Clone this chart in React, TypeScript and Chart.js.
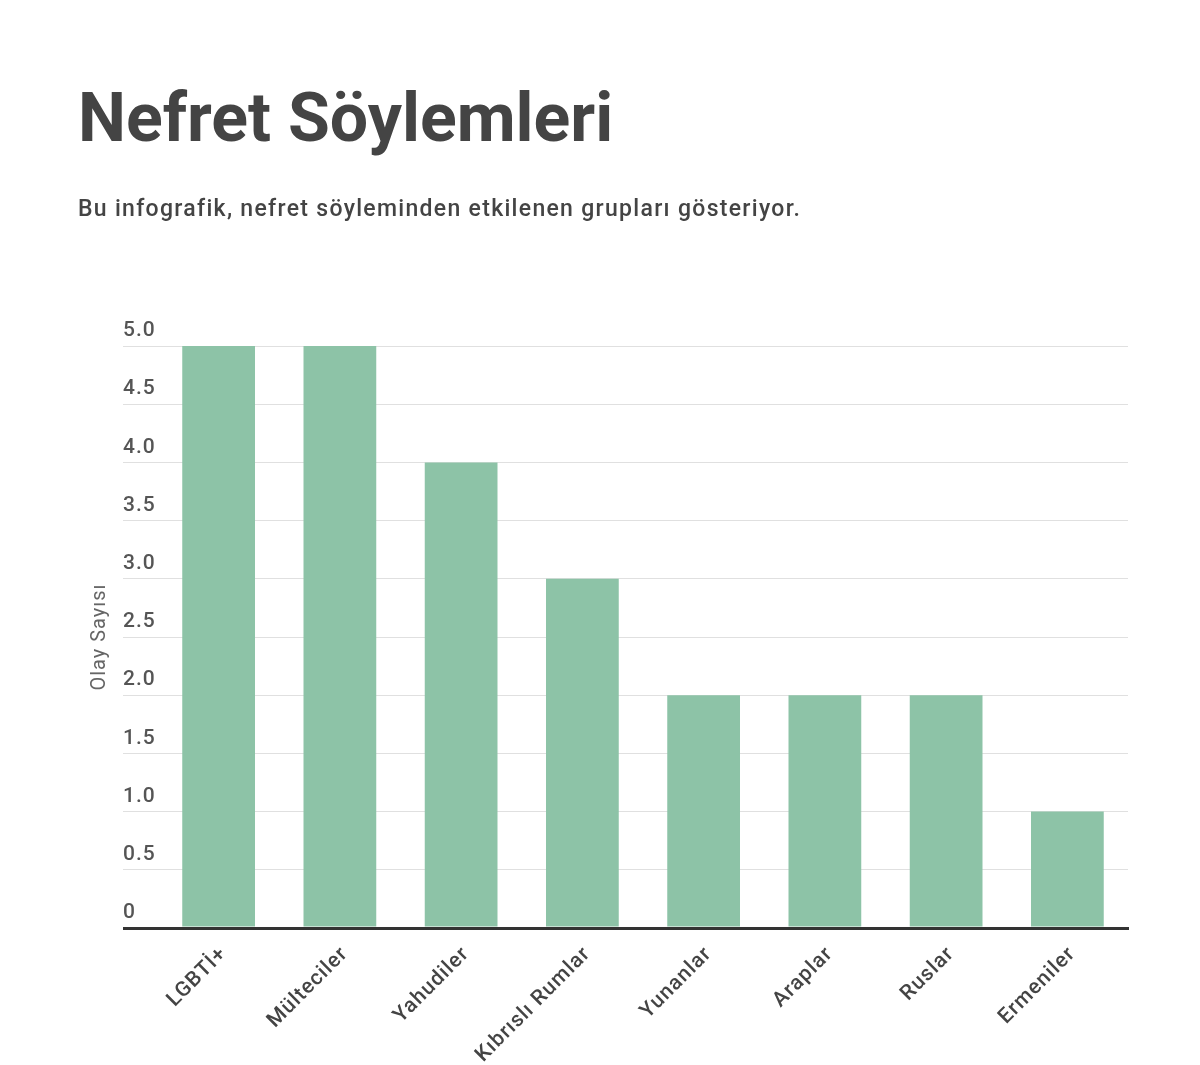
import { useEffect, useRef } from 'react';
import { Chart, registerables } from 'chart.js';

Chart.register(...registerables);

const titleText = 'Nefret Söylemleri';
const subtitleText = 'Bu infografik, nefret söyleminden etkilenen grupları gösteriyor.';
const yAxisTitle = 'Olay Sayısı';
const categories = ['LGBTİ+', 'Mülteciler', 'Yahudiler', 'Kıbrıslı Rumlar', 'Yunanlar', 'Araplar', 'Ruslar', 'Ermeniler'];
const values = [5, 5, 4, 3, 2, 2, 2, 1];
const yMin = 0;
const yMax = 5;
const yStep = 0.5;

const spacingPlugin = {
  id: 'textSpacing',
  beforeDraw: (chart: any) => {
    try {
      chart.ctx.letterSpacing = '1px';
    } catch (e) {
      /* ignore */
    }
  },
};

export default function App() {
  const ref = useRef<HTMLCanvasElement | null>(null);

  useEffect(() => {
    if (!ref.current) return;
    Chart.defaults.font.family = 'Roboto';
    const chart = new Chart(ref.current, {
      type: 'bar',
      data: {
        labels: categories,
        datasets: [
          {
            data: values,
            backgroundColor: '#8dc3a7',
            borderWidth: 0,
            categoryPercentage: 1,
            barPercentage: 0.6,
          },
        ],
      },
      plugins: [spacingPlugin],
      options: {
        animation: false,
        responsive: false,
        maintainAspectRatio: false,
        layout: { padding: { left: 78, right: 72, top: 346, bottom: 0 } },
        plugins: {
          legend: { display: false },
          tooltip: { enabled: false },
          title: { display: false },
        },
        scales: {
          x: {
            z: 1,
            grid: { display: false, drawTicks: false },
            border: { display: true, color: '#333333', width: 3 },
            ticks: {
              color: '#444444',
              font: { family: 'Roboto', size: 21, weight: '500' },
              minRotation: 45,
              maxRotation: 45,
              padding: 14,
              labelOffset: 5,
              autoSkip: false,
            },
            afterFit: (scale: any) => {
              scale.height = 137;
            },
          },
          y: {
            min: yMin,
            max: yMax,
            border: { display: false },
            grid: {
              color: (ctx: any) => (ctx.tick && ctx.tick.value === 0 ? '#333333' : '#e0e0e0'),
              lineWidth: (ctx: any) => (ctx.tick && ctx.tick.value === 0 ? 3 : 1),
              drawTicks: true,
              tickLength: 35,
            },
            ticks: {
              stepSize: yStep,
              mirror: true,
              padding: -35,
              labelOffset: -15,
              color: '#555555',
              font: { family: 'Roboto', size: 21, weight: '500' },
              callback: (v: any) => (Number(v) === 0 ? '0' : Number(v).toFixed(1)),
            },
            title: {
              display: true,
              text: yAxisTitle,
              color: '#666666',
              font: { family: 'Roboto', size: 20 },
              padding: { top: 10, bottom: 0 },
            },
            afterFit: (scale: any) => {
              scale.width = 80;
            },
          },
        },
      },
    });
    return () => chart.destroy();
  }, []);

  return (
    <div style={{ position: 'absolute', left: 0, top: 0, width: 1200, height: 1065, background: '#ffffff' }}>
      <canvas ref={ref} width={1200} height={1065} style={{ display: 'block', width: 1200, height: 1065 }} />
      <div
        style={{
          position: 'absolute',
          left: 78,
          top: 84,
          margin: 0,
          fontFamily: 'Roboto',
          fontWeight: 700,
          fontSize: 68,
          lineHeight: 1,
          color: '#444444',
          whiteSpace: 'nowrap',
        }}
      >
        {titleText}
      </div>
      <div
        style={{
          position: 'absolute',
          left: 78,
          top: 197,
          margin: 0,
          fontFamily: 'Roboto',
          fontWeight: 500,
          fontSize: 23,
          lineHeight: 1,
          letterSpacing: '1.3px',
          color: '#444444',
          whiteSpace: 'nowrap',
        }}
      >
        {subtitleText}
      </div>
    </div>
  );
}
